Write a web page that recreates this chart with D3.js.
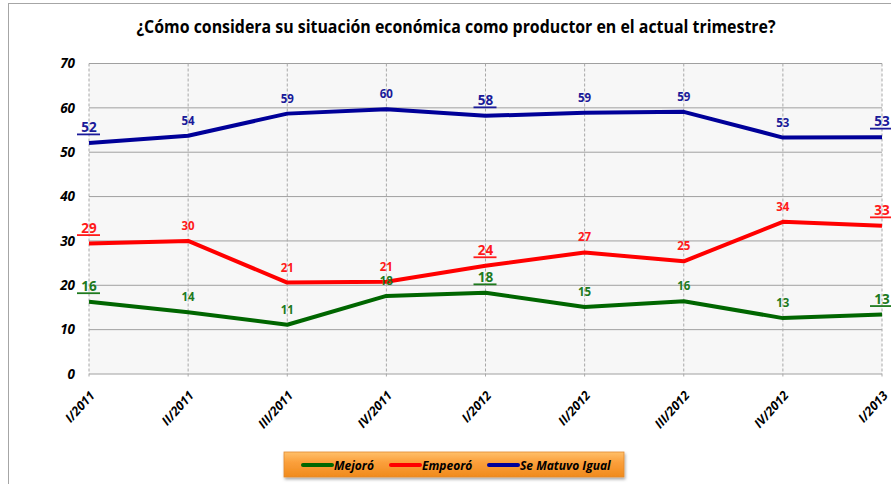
<!DOCTYPE html>
<html><head><meta charset="utf-8">
<script src="https://cdn.jsdelivr.net/npm/d3@7/dist/d3.min.js"></script>
<style>body{margin:0;background:#fff;}svg{display:block;}</style>
</head><body>
<svg id="c" width="891" height="484"></svg>
<script>
const categories = ["I/2011","II/2011","III/2011","IV/2011","I/2012","II/2012","III/2012","IV/2012","I/2013"];
const mejoro = [16.3, 13.9, 11.1, 17.6, 18.3, 15.1, 16.4, 12.6, 13.4];
const empeoro = [29.4, 30.0, 20.6, 20.8, 24.4, 27.4, 25.4, 34.3, 33.4];
const igual = [52.1, 53.7, 58.7, 59.7, 58.2, 58.9, 59.1, 53.3, 53.4];
const seriesNames = ["Mejoró","Empeoró","Se Matuvo Igual"];
const yTicks = [0,10,20,30,40,50,60,70];
const title = "¿Cómo considera su situación económica como productor en el actual trimestre?";

const series = [
  {name: seriesNames[0], values: mejoro, color: "#006600", label: "#1e7a1e"},
  {name: seriesNames[1], values: empeoro, color: "#ff0000", label: "#ff1a1a"},
  {name: seriesNames[2], values: igual, color: "#000099", label: "#1a1a99"}
];
const underlined = new Set([0,4,8]);

const svg = d3.select("#c");
const L = 89, R = 882, T = 63.5, B = 374;
const x = d3.scalePoint().domain(categories).range([L, R]);
const y = d3.scaleLinear().domain([0,70]).range([B, T]);

// outer border
svg.append("rect").attr("x",8.5).attr("y",3.5).attr("width",900).attr("height",490)
  .attr("fill","#fff").attr("stroke","#a6a6a6").attr("stroke-width",1);

// title
svg.append("text").attr("x",456).attr("y",33).attr("text-anchor","middle")
  .attr("font-family","'Open Sans', sans-serif").attr("font-weight","bold").attr("font-size",17)
  .attr("textLength",639).attr("lengthAdjust","spacingAndGlyphs")
  .attr("fill","#000").text(title);

// plot bg
svg.append("rect").attr("x",L).attr("y",T).attr("width",R-L).attr("height",B-T).attr("fill","#f7f7f7");

// horizontal grid
svg.append("g").selectAll("line").data(yTicks).join("line")
  .attr("x1",L).attr("x2",R).attr("y1",d=>y(d)).attr("y2",d=>y(d))
  .attr("stroke","#a0a0a0").attr("stroke-width",1);
// vertical dashed grid
svg.append("g").selectAll("line").data(categories).join("line")
  .attr("x1",d=>x(d)).attr("x2",d=>x(d)).attr("y1",T).attr("y2",B+4)
  .attr("stroke","#a8a8a8").attr("stroke-width",1).attr("stroke-dasharray","3,2");

// y axis labels
const yAxis = d3.axisLeft(y).tickValues(yTicks).tickSize(0).tickPadding(14);
const gy = svg.append("g").attr("transform",`translate(${L},0)`).call(yAxis);
gy.select(".domain").remove();
gy.selectAll("text").attr("font-family","'Open Sans', sans-serif").attr("font-weight","bold")
  .attr("font-style","italic").attr("font-size",13.5).attr("fill","#000");

// x axis labels
const xAxis = d3.axisBottom(x).tickSize(0).tickPadding(0);
const gx = svg.append("g").attr("transform",`translate(0,${B})`).call(xAxis);
gx.select(".domain").remove();
gx.selectAll("text").attr("font-family","'Open Sans', sans-serif").attr("font-weight","bold")
  .attr("font-style","italic").attr("font-size",12.5).attr("fill","#000")
  .attr("text-anchor","end").attr("dy",null).attr("y",0)
  .attr("transform","translate(6,22) rotate(-48)");

// lines
const line = d3.line().x((d,i)=>x(categories[i])).y(d=>y(d));
series.forEach(s=>{
  svg.append("path").datum(s.values).attr("d",line).attr("fill","none")
    .attr("stroke",s.color).attr("stroke-width",4).attr("stroke-linejoin","round");
});

// labels
series.forEach(s=>{
  const g = svg.append("g");
  s.values.forEach((v,i)=>{
    const u = underlined.has(i);
    const px = x(categories[i]), py = y(v) - (u ? 11 : 11);
    g.append("text").attr("x",px).attr("y",py).attr("text-anchor","middle")
      .attr("font-family","'Open Sans', sans-serif").attr("font-weight","bold")
      .attr("font-size", u?13.5:11.5).attr("fill",s.label).text(Math.round(v));
    if (u) {
      g.append("line").attr("x1",px-12).attr("x2",px+11).attr("y1",py+2.5).attr("y2",py+2.5)
        .attr("stroke",s.label).attr("stroke-width",1.8);
    }
  });
});

// legend
const defs = svg.append("defs");
const grad = defs.append("linearGradient").attr("id","lg").attr("x1",0).attr("y1",0).attr("x2",0).attr("y2",1);
grad.append("stop").attr("offset","0%").attr("stop-color","#ffc06b");
grad.append("stop").attr("offset","40%").attr("stop-color","#fba03c");
grad.append("stop").attr("offset","100%").attr("stop-color","#f08a1c");
const flt = defs.append("filter").attr("id","sh").attr("x","-10%").attr("y","-50%").attr("width","120%").attr("height","200%");
flt.append("feDropShadow").attr("dx",1).attr("dy",2).attr("stdDeviation",1.5).attr("flood-color","#000").attr("flood-opacity",0.35);
svg.append("rect").attr("x",284).attr("y",452).attr("width",340).attr("height",25)
  .attr("fill","url(#lg)").attr("stroke","#e08a30").attr("stroke-width",0.8).attr("filter","url(#sh)");
const legX = [303, 391, 489];
series.forEach((s,i)=>{
  svg.append("line").attr("x1",legX[i]).attr("x2",legX[i]+29).attr("y1",465).attr("y2",465)
    .attr("stroke",s.color).attr("stroke-width",4).attr("stroke-linecap","round");
  svg.append("text").attr("x",legX[i]+31).attr("y",469.5)
    .attr("font-family","'Open Sans', sans-serif").attr("font-weight","bold").attr("font-style","italic")
    .attr("font-size",12).attr("fill","#000").text(s.name);
});
</script>
</body></html>
